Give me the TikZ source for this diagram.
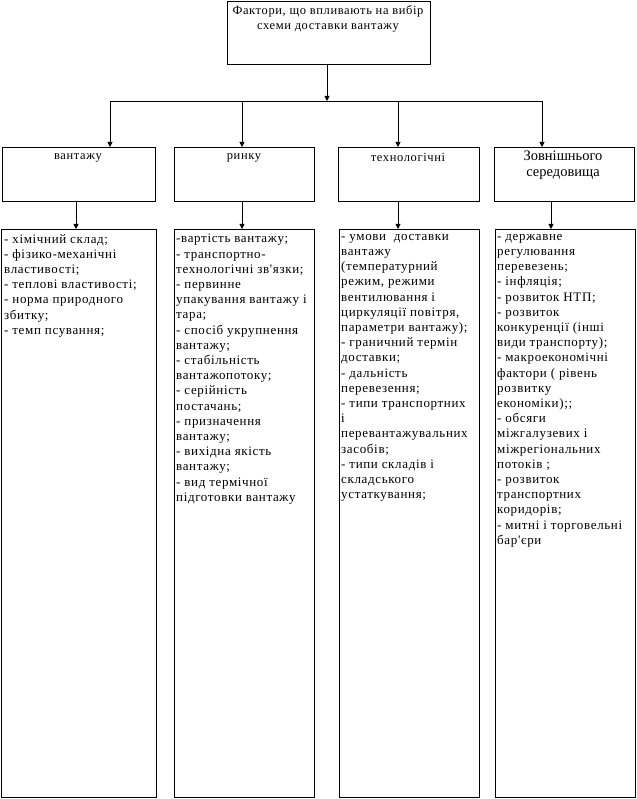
\documentclass[tikz,border=0pt]{standalone}
\usepackage{fontspec}
\setmainfont{Liberation Serif}
\newfontfamily\spfont[LetterSpace=5]{Liberation Serif}
\usetikzlibrary{arrows.meta}
\begin{document}
\begin{tikzpicture}[x=1pt,y=-1pt,
  box/.style={draw,line width=0.9pt,rectangle,inner sep=0pt,anchor=north west},
  arr/.style={line width=0.8pt,-{Triangle[length=5pt,width=5pt]}},
  line/.style={line width=0.9pt},
  txt/.style={inner sep=0pt,align=left,anchor=north west,font=\spfont\fontsize{13}{15.2}\selectfont},
  ctxt/.style={inner sep=0pt,align=center,anchor=north,font=\spfont\fontsize{12.5}{15}\selectfont}]
\useasboundingbox (0,0) rectangle (636,799);
\fill[white] (0,0) rectangle (636,799);
% top
\node[box,minimum width=203pt,minimum height=63pt] (top) at (227,1) {};
\node[ctxt] (toptxt) at (328,5) {Фактори, що впливають на вибір\\схеми доставки вантажу};
% bus
\coordinate (t1) at (110,101);
\coordinate (t2) at (242,101);
\coordinate (t3) at (398,101);
\coordinate (t4) at (542,101);
\coordinate (tm) at (327,101);
\draw[line] (t1) -- (t4);
% level 2
\node[box,minimum width=153pt,minimum height=54pt] (b1) at (2,147) {};
\node[box,minimum width=140pt,minimum height=54pt] (b2) at (174,147) {};
\node[box,minimum width=141pt,minimum height=54pt] (b3) at (338,147) {};
\node[box,minimum width=140pt,minimum height=54pt] (b4) at (494,147) {};
\node[ctxt] (b1t) at (78,153) {вантажу};
\node[ctxt] (b2t) at (244,153) {ринку};
\node[ctxt] (b3t) at (408,153) {технологічні};
\node[ctxt,font=\fontsize{14.5}{15.5}\selectfont] (b4t) at (563,151) {Зовнішнього\\середовища};
% level 3
\node[box,minimum width=155pt,minimum height=568pt] (c1) at (1,229) {};
\node[box,minimum width=140pt,minimum height=568pt] (c2) at (174,229) {};
\node[box,minimum width=140pt,minimum height=568pt] (c3) at (339,229) {};
\node[box,minimum width=140pt,minimum height=568pt] (c4) at (495,229) {};
\node[txt] (c1t) at (4,234) {- хімічний склад;\\- фізико-механічні\\властивості;\\- теплові властивості;\\- норма природного\\збитку;\\- темп псування;};
\node[txt] (c2t) at (176,234) {-вартість вантажу;\\- транспортно-\\технологічні зв'язки;\\- первинне\\упакування вантажу і\\тара;\\- спосіб укрупнення\\вантажу;\\- стабільність\\вантажопотоку;\\- серійність\\постачань;\\- призначення\\вантажу;\\- вихідна якість\\вантажу;\\- вид термічної\\підготовки вантажу};
\node[txt] (c3t) at (341,234) {- умови\ \ доставки\\вантажу\\(температурний\\режим, режими\\вентилювання і\\циркуляції повітря,\\параметри вантажу);\\- граничний термін\\доставки;\\- дальність\\перевезення;\\- типи транспортних\\і\\перевантажувальних\\засобів;\\- типи складів і\\складського\\устаткування;};
\node[txt] (c4t) at (497,234) {- державне\\регулювання\\перевезень;\\- інфляція;\\- розвиток НТП;\\- розвиток\\конкуренції (інші\\види транспорту);\\- макроекономічні\\фактори ( рівень\\розвитку\\економіки);;\\- обсяги\\міжгалузевих і\\міжрегіональних\\потоків ;\\- розвиток\\транспортних\\коридорів;\\- митні і торговельні\\бар'єри};
% arrows
\draw[arr] (top.south -| tm) -- (tm);
\draw[arr] (t1) -- (t1 |- b1.north);
\draw[arr] (t2) -- (t2 |- b2.north);
\draw[arr] (t3) -- (t3 |- b3.north);
\draw[arr] (t4) -- (t4 |- b4.north);
\coordinate (d1) at (76,201);
\coordinate (d2) at (242,201);
\coordinate (d3) at (398,201);
\coordinate (d4) at (551,201);
\draw[arr] (d1) -- (d1 |- c1.north);
\draw[arr] (d2) -- (d2 |- c2.north);
\draw[arr] (d3) -- (d3 |- c3.north);
\draw[arr] (d4) -- (d4 |- c4.north);
\end{tikzpicture}
\end{document}
